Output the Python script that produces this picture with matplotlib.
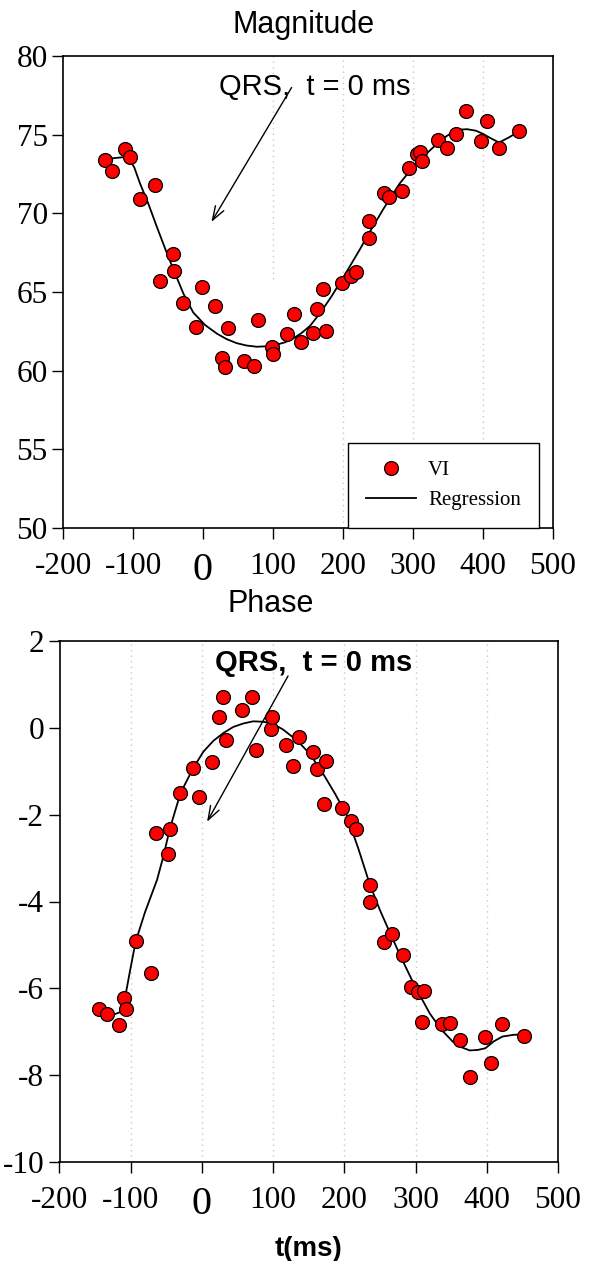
import numpy as np
import matplotlib
matplotlib.use('Agg')
import matplotlib.pyplot as plt

# ---- data ----
mag_t = [-140, -130, -112, -104, -90, -68, -61, -43, -41, -28, -10, -1, 17, 27, 32, 36,
         58, 73, 78, 98, 100, 120, 130, 140, 157, 163, 172, 176, 198, 212, 218, 237,
         237, 258, 266, 284, 294, 305, 310, 313, 336, 349, 362, 376, 397, 405, 423, 452]
mag_vi = [73.4, 72.7, 74.1, 73.6, 70.9, 71.8, 65.7, 67.4, 66.35, 64.3, 62.8, 65.3, 64.1, 60.8, 60.25, 62.7,
          60.6, 60.3, 63.2, 61.5, 61.05, 62.3, 63.6, 61.8, 62.4, 63.9, 65.2, 62.5, 65.6, 66.0, 66.3, 68.45,
          69.5, 71.3, 71.05, 71.4, 72.85, 73.8, 73.9, 73.3, 74.65, 74.15, 75.05, 76.5, 74.6, 75.85, 74.15, 75.25]

mag_fit_t = [-140, -107, -98, -90, -78, -66, -54, -42, -28, -14, 3, 20, 34, 48, 62, 77, 91, 105,
             117, 129, 141, 153, 168, 184, 204, 224, 234, 258, 281, 305, 329, 346, 362, 377, 390, 400, 412, 423, 438, 453]
mag_fit = [73.45, 73.6, 72.9, 71.9, 70.6, 69.15, 67.75, 66.4, 64.9, 63.7, 62.9, 62.35, 62.0, 61.75, 61.6, 61.52, 61.55, 61.65,
           61.8, 62.05, 62.4, 62.85, 63.7, 64.75, 66.2, 67.7, 68.5, 70.3, 71.9, 73.2, 74.2, 74.85, 75.3, 75.35, 75.25, 75.05, 74.75, 74.5, 74.85, 75.25]

ph_t = [-144, -134, -116, -109, -107, -93, -72, -65, -47, -45, -31, -12, -4, 14, 24, 30,
        34, 56, 71, 76, 97, 98, 118, 128, 137, 156, 162, 171, 174, 196, 210, 216,
        236, 236, 256, 267, 283, 294, 303, 309, 312, 337, 349, 363, 376, 398, 406, 422, 452]
ph_vi = [-6.47, -6.6, -6.84, -6.22, -6.48, -4.92, -5.64, -2.43, -2.9, -2.34, -1.5, -0.92, -1.6, -0.78, 0.26, 0.72,
         -0.28, 0.40, 0.72, -0.51, -0.03, 0.26, -0.40, -0.88, -0.21, -0.56, -0.95, -1.76, -0.77, -1.84, -2.14, -2.33,
         -3.62, -4.01, -4.93, -4.74, -5.24, -5.98, -6.09, -6.77, -6.05, -6.81, -6.79, -7.2, -8.04, -7.12, -7.71, -6.81, -7.09]

ph_fit_t = [-144, -134, -113, -109, -101, -93, -80, -63, -54, -45, -30, -12, 2, 16, 30, 44, 58, 72, 86, 100,
            114, 128, 140, 152, 171, 187, 203, 220, 236, 250, 264, 280, 297, 309, 320, 336, 353, 365, 376, 387, 398, 410, 422, 438, 454]
ph_fit = [-6.47, -6.66, -6.54, -6.31, -5.6, -4.92, -4.25, -3.5, -2.95, -2.32, -1.5, -0.92, -0.55, -0.30, -0.12, 0.02, 0.1, 0.15, 0.14, 0.09,
          -0.04, -0.22, -0.4, -0.61, -1.08, -1.52, -2.0, -2.8, -3.62, -4.2, -4.72, -5.3, -5.88, -6.25, -6.58, -6.95, -7.24, -7.36, -7.43, -7.42, -7.38, -7.22, -7.11, -7.07, -7.06]

x_ticks = [-200, -100, 0, 100, 200, 300, 400, 500]
x_labels = ['-200', '-100', '0', '100', '200', '300', '400', '500']

SERIF = 'Liberation Serif'
SANS = 'Liberation Sans'

fig = plt.figure(figsize=(5.89, 12.61), dpi=100)
ax1 = fig.add_axes([63 / 589, 1 - 528 / 1261, 490 / 589, 472 / 1261])
ax2 = fig.add_axes([59.5 / 589, 1 - 1162 / 1261, 498.5 / 589, 521 / 1261])


def style_axis(ax, yticks):
    ax.set_xlim(-200, 500)
    ax.set_xticks(x_ticks)
    ax.set_xticklabels(x_labels, family=SERIF, fontsize=22.5)
    ax.set_yticks(yticks)
    ax.set_yticklabels([str(v) for v in yticks], family=SERIF, fontsize=22.5)
    ax.tick_params(axis='x', direction='out', length=8, width=1, pad=9)
    ax.tick_params(axis='y', direction='out', length=8, width=1, pad=3)
    # the "0" tick label is drawn bigger in the original
    lbl = ax.get_xticklabels()[2]
    lbl.set_fontsize(29)
    for s in ax.spines.values():
        s.set_linewidth(1.2)


# ---- Magnitude ----
ax1.set_ylim(50, 80)
ax1.vlines([200, 300, 400], 50, 80, colors='#c8c8c8', linestyles=(0, (1, 3)), linewidth=1)
ax1.vlines([100], 65.8, 80, colors='#c8c8c8', linestyles=(0, (1, 3)), linewidth=1)
ax1.plot(mag_t, mag_vi, 'o', color='red', markeredgecolor='black', markeredgewidth=0.9,
         markersize=10, label='VI', zorder=3)
ax1.plot(mag_fit_t, mag_fit, '-', color='black', linewidth=1.3, label='Regression', zorder=2)
style_axis(ax1, [50, 55, 60, 65, 70, 75, 80])
leg = ax1.legend(loc='lower right', bbox_to_anchor=(0.971, 0.0), borderaxespad=0,
                 prop={'family': SERIF, 'size': 15}, numpoints=1, fancybox=False,
                 edgecolor='black', framealpha=1, handlelength=2.4, handletextpad=0.6,
                 labelspacing=0.5, borderpad=0.85)
leg.get_frame().set_linewidth(1.0)
ax1.text(23, 78.0, 'QRS,  t = 0 ms', family=SANS, fontsize=21, va='center', ha='left')
ax1.annotate('', xy=(10, 69.3), xytext=(128.6, 78.15),
             arrowprops=dict(arrowstyle='->, head_length=1.0, head_width=0.35', color='black', linewidth=1.0))
fig.text(0.515, 1 - 25 / 1261, 'Magnitude', family=SANS, fontsize=22, ha='center', va='center')

# ---- Phase ----
ax2.set_ylim(-10, 2)
ax2.vlines([-100, 0, 100, 200, 300, 400], -10, 2, colors='#c8c8c8', linestyles=(0, (1, 3)), linewidth=1)
ax2.plot(ph_t, ph_vi, 'o', color='red', markeredgecolor='black', markeredgewidth=0.9,
         markersize=10, zorder=3)
ax2.plot(ph_fit_t, ph_fit, '-', color='black', linewidth=1.3, zorder=2)
style_axis(ax2, [-10, -8, -6, -4, -2, 0, 2])
ax2.text(18, 1.5, 'QRS,  t = 0 ms', family=SANS, fontsize=21, fontweight='bold', va='center', ha='left')
ax2.annotate('', xy=(5.3, -2.22), xytext=(122.8, 1.25),
             arrowprops=dict(arrowstyle='->, head_length=1.0, head_width=0.35', color='black', linewidth=1.0))
ax2.set_xlabel('t(ms)', family=SANS, fontsize=20, fontweight='bold', labelpad=10)
fig.text(271 / 589, 1 - 604 / 1261, 'Phase', family=SANS, fontsize=22, ha='center', va='center')

fig.savefig('out.png', dpi=100)
